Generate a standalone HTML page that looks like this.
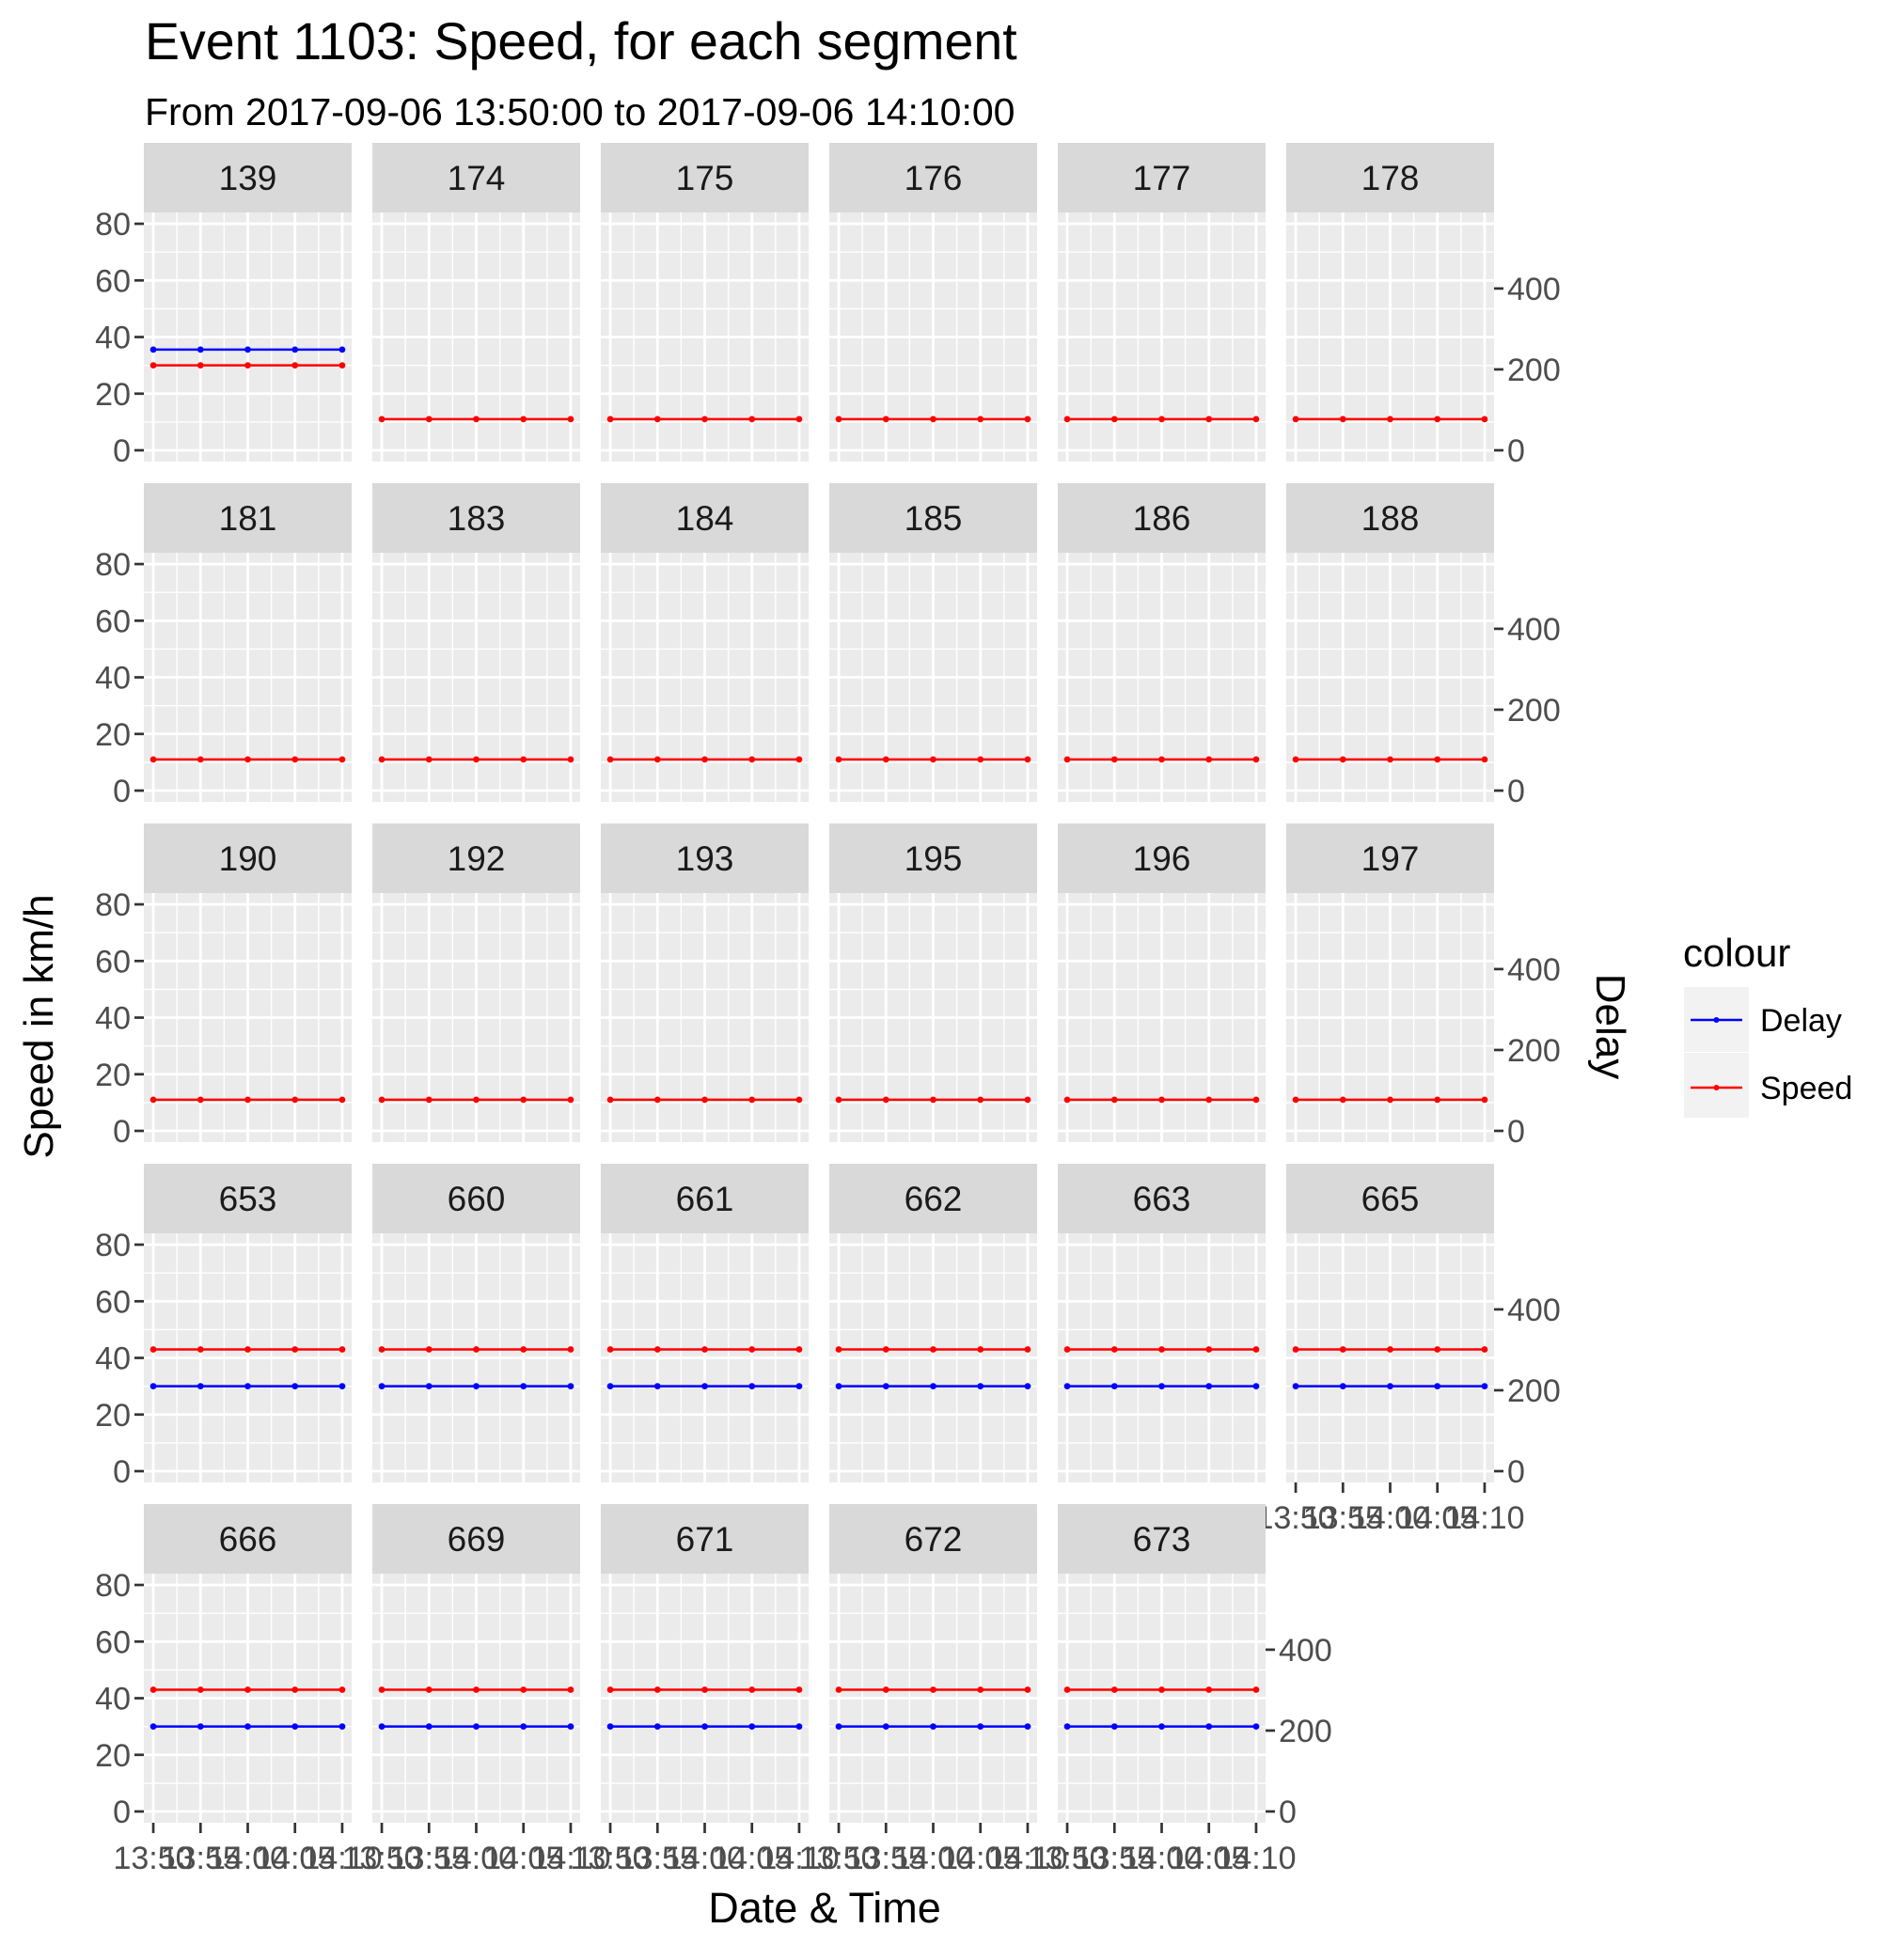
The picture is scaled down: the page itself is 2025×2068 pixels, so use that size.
<!DOCTYPE html>
<html><head><meta charset="utf-8"><style>
html,body{margin:0;padding:0;background:#fff;}
svg{display:block;font-family:"Liberation Sans",Arial,sans-serif;}
</style></head><body>
<svg id="chart" width="2025" height="2068" viewBox="0 0 2025 2068" xmlns="http://www.w3.org/2000/svg">
<text x="154" y="63" font-size="55.5" fill="#000">Event 1103: Speed, for each segment</text>
<text x="154" y="133" font-size="41" fill="#000">From 2017-09-06 13:50:00 to 2017-09-06 14:10:00</text>
<text x="877" y="2045" font-size="45" text-anchor="middle" fill="#000">Date &amp; Time</text>
<text transform="translate(56,1092) rotate(-90)" font-size="44" text-anchor="middle" fill="#000">Speed in km/h</text>
<text transform="translate(1698,1092) rotate(90)" font-size="44" text-anchor="middle" fill="#000">Delay</text>
<g>
<text x="1790" y="1028" font-size="42" fill="#000">colour</text>
<g>
<rect x="1791" y="1050" width="69" height="69" fill="#F2F2F2"/>
<line x1="1798" y1="1085" x2="1853" y2="1085" stroke="#0000FF" stroke-width="2.5"/>
<circle cx="1825.5" cy="1085" r="3" fill="#0000FF"/>
<text x="1872" y="1097" font-size="34" fill="#000">Delay</text>
</g>
<g>
<rect x="1791" y="1120" width="69" height="69" fill="#F2F2F2"/>
<line x1="1798" y1="1157" x2="1853" y2="1157" stroke="#FF0000" stroke-width="2.5"/>
<circle cx="1825.5" cy="1157" r="3" fill="#FF0000"/>
<text x="1872" y="1169" font-size="34" fill="#000">Speed</text>
</g>
</g>
<g id="panels"></g>
</svg>
<script>
const segments = ["139","174","175","176","177","178","181","183","184","185","186","188","190","192","193","195","196","197","653","660","661","662","663","665","666","669","671","672","673"];
const timeLabels = ["13:50","13:55","14:00","14:05","14:10"];
const timeMinutes = [0, 5, 10, 15, 20];
const speedBySegment = [
[30,30,30,30,30],[11,11,11,11,11],[11,11,11,11,11],[11,11,11,11,11],[11,11,11,11,11],[11,11,11,11,11],
[11,11,11,11,11],[11,11,11,11,11],[11,11,11,11,11],[11,11,11,11,11],[11,11,11,11,11],[11,11,11,11,11],
[11,11,11,11,11],[11,11,11,11,11],[11,11,11,11,11],[11,11,11,11,11],[11,11,11,11,11],[11,11,11,11,11],
[43,43,43,43,43],[43,43,43,43,43],[43,43,43,43,43],[43,43,43,43,43],[43,43,43,43,43],[43,43,43,43,43],
[43,43,43,43,43],[43,43,43,43,43],[43,43,43,43,43],[43,43,43,43,43],[43,43,43,43,43]
];
const delayBySegment = [
[249,249,249,249,249],null,null,null,null,null,
null,null,null,null,null,null,
null,null,null,null,null,null,
[210,210,210,210,210],[210,210,210,210,210],[210,210,210,210,210],[210,210,210,210,210],[210,210,210,210,210],[210,210,210,210,210],
[210,210,210,210,210],[210,210,210,210,210],[210,210,210,210,210],[210,210,210,210,210],[210,210,210,210,210]
];
const speedTicks = [0,20,40,60,80];
const delayTicks = [0,200,400];
const delayFactor = 7;

const NS = "http://www.w3.org/2000/svg";
const root = document.getElementById("panels");
const ncol = 6, PX0 = 153, PPITCH = 243, PW = 221;
const SY0 = 152, RPITCH = 362, SH = 74, PH = 265;
const yMin = -3.98, yMax = 84, xMin = -1, xMax = 21;
function mk(tag, attrs, parent){ const e = document.createElementNS(NS, tag); for (const k in attrs) e.setAttribute(k, attrs[k]); parent.appendChild(e); return e; }

segments.forEach((seg, i) => {
  const r = Math.floor(i / ncol), c = i % ncol;
  const px = PX0 + c * PPITCH, sy = SY0 + r * RPITCH, py = sy + SH;
  const xs = m => px + (m - xMin) / (xMax - xMin) * PW;
  const ys = v => py + PH - (v - yMin) / (yMax - yMin) * PH;
  const g = mk("g", {}, root);
  
  
  const strip = mk("rect", {x: px, y: sy, width: PW, height: SH, fill: "#D9D9D9"}, g);
  
  
  const st = mk("text", {x: px + PW / 2, y: sy + SH / 2 + 13, "font-size": 37, "text-anchor": "middle", fill: "#1A1A1A"}, g);
  st.textContent = seg;
  
  
  const bg = mk("rect", {x: px, y: py, width: PW, height: PH, fill: "#EBEBEB"}, g);
  
  
  for (let k = 0; k < timeMinutes.length - 1; k++) {
    const m = (timeMinutes[k] + timeMinutes[k + 1]) / 2;
    mk("line", {x1: xs(m), x2: xs(m), y1: py, y2: py + PH, stroke: "#fff", "stroke-width": 1.4}, g);
  }
  for (let k = 0; k < speedTicks.length - 1; k++) {
    const v = (speedTicks[k] + speedTicks[k + 1]) / 2;
    mk("line", {x1: px, x2: px + PW, y1: ys(v), y2: ys(v), stroke: "#fff", "stroke-width": 1.4}, g);
  }
  timeMinutes.forEach(m => mk("line", {x1: xs(m), x2: xs(m), y1: py, y2: py + PH, stroke: "#fff", "stroke-width": 2.8}, g));
  speedTicks.forEach(v => mk("line", {x1: px, x2: px + PW, y1: ys(v), y2: ys(v), stroke: "#fff", "stroke-width": 2.8}, g));
  const drawSeries = (vals, color, name, scale) => {
    if (!vals) return;
    const pts = vals.map((v, k) => xs(timeMinutes[k]) + "," + ys(v / scale)).join(" ");
    const pl = mk("polyline", {points: pts, fill: "none", stroke: color, "stroke-width": 2.5}, g);
    
    
    vals.forEach((v, k) => {
      const cpt = mk("circle", {cx: xs(timeMinutes[k]), cy: ys(v / scale), r: 3.4, fill: color}, g);
      
      
    });
  };
  drawSeries(delayBySegment[i], "#0000FF", "delay", delayFactor);
  drawSeries(speedBySegment[i], "#FF0000", "speed", 1);
  if (c === 0) {
    speedTicks.forEach(v => {
      mk("line", {x1: px - 10, x2: px, y1: ys(v), y2: ys(v), stroke: "#333", "stroke-width": 2.7}, g);
      const t = mk("text", {x: px - 14, y: ys(v) + 12, "font-size": 34, "text-anchor": "end", fill: "#4D4D4D"}, g);
      t.textContent = v;
      
      
    });
  }
  const isLastInRow = (c === ncol - 1) || (i === segments.length - 1);
  if (isLastInRow) {
    delayTicks.forEach(v => {
      const yy = ys(v / delayFactor);
      mk("line", {x1: px + PW, x2: px + PW + 10, y1: yy, y2: yy, stroke: "#333", "stroke-width": 2.7}, g);
      const t = mk("text", {x: px + PW + 14, y: yy + 12, "font-size": 34, fill: "#4D4D4D"}, g);
      t.textContent = v;
      
      
    });
  }
  const hasBelow = i + ncol < segments.length;
  if (!hasBelow) {
    timeMinutes.forEach((m, k) => {
      mk("line", {x1: xs(m), x2: xs(m), y1: py + PH, y2: py + PH + 11, stroke: "#333", "stroke-width": 2.7}, g);
      const t = mk("text", {x: xs(m), y: py + PH + 49, "font-size": 34, "text-anchor": "middle", fill: "#4D4D4D"}, g);
      t.textContent = timeLabels[k];
      
      
    });
  }
});
</script>
</body></html>
